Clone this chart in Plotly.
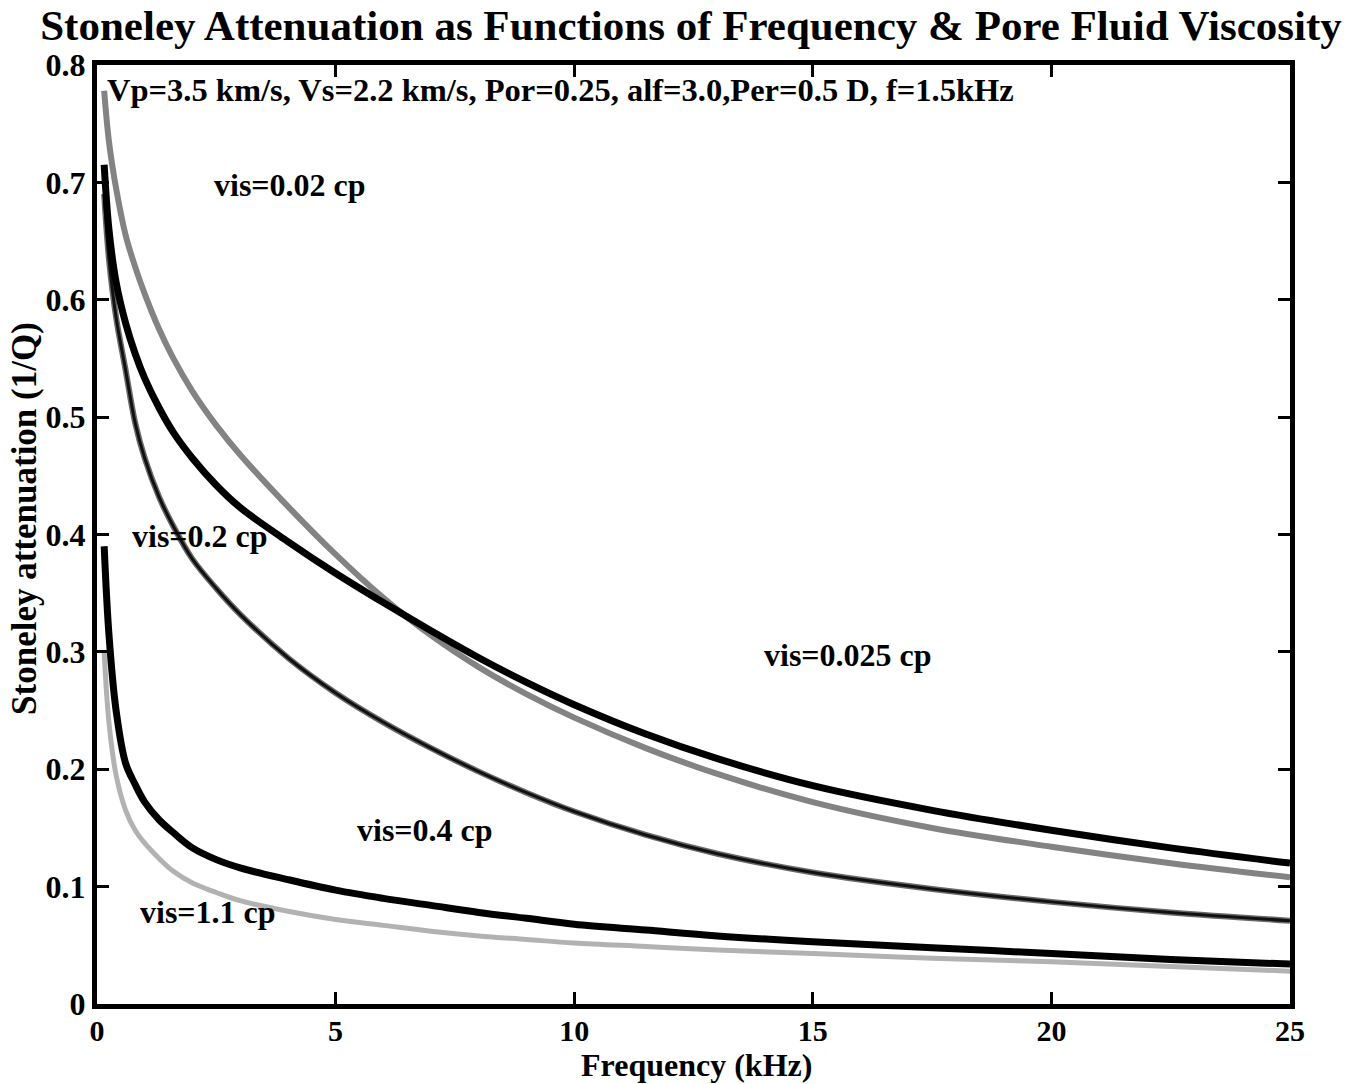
import plotly.graph_objects as go

# ---- data ----
freq_khz = [0.15, 0.25, 0.4, 0.6, 0.8, 1.0, 1.3, 1.6, 2.0, 2.5, 3.0, 4.0, 5.0, 6.0,
            7.0, 8.0, 9.0, 10.0, 11.5, 13.0, 15.0, 17.5, 20.0, 22.5, 25.0]

atten_vis002_gray = [0.778, 0.735, 0.695, 0.655, 0.628, 0.605, 0.575, 0.550, 0.522, 0.493,
                     0.468, 0.424, 0.383, 0.346, 0.314, 0.287, 0.264, 0.244, 0.218, 0.196,
                     0.172, 0.150, 0.134, 0.120, 0.108]

atten_vis0025_black = [0.715, 0.66, 0.615, 0.58, 0.554, 0.533, 0.508, 0.487, 0.465, 0.442,
                       0.423, 0.394, 0.367, 0.342, 0.318, 0.295, 0.274, 0.255, 0.230, 0.209,
                       0.186, 0.165, 0.148, 0.133, 0.120]

atten_vis02_04 = [0.69, 0.635, 0.585, 0.54, 0.495, 0.465, 0.432, 0.407, 0.379, 0.354,
                  0.332, 0.295, 0.265, 0.240, 0.218, 0.198, 0.180, 0.164, 0.144, 0.128,
                  0.112, 0.098, 0.087, 0.078, 0.071]

atten_vis11_black = [0.39, 0.315, 0.25, 0.205, 0.187, 0.172, 0.157, 0.146, 0.133, 0.123,
                     0.116, 0.106, 0.097, 0.09, 0.084, 0.078, 0.073, 0.068, 0.063, 0.058,
                     0.053, 0.048, 0.043, 0.038, 0.034]

atten_vis11_gray = [0.30, 0.24, 0.195, 0.165, 0.148, 0.137, 0.124, 0.113, 0.103, 0.095,
                    0.088, 0.079, 0.072, 0.067, 0.062, 0.058, 0.055, 0.052, 0.049, 0.046,
                    0.043, 0.039, 0.036, 0.032, 0.028]

x_ticks = [0, 5, 10, 15, 20, 25]
y_ticks = [0, 0.1, 0.2, 0.3, 0.4, 0.5, 0.6, 0.7, 0.8]
y_tick_text = ["0", "0.1", "0.2", "0.3", "0.4", "0.5", "0.6", "0.7", "0.8"]

labels = [
    ("vis=0.02 cp", 4.05, 0.698),
    ("vis=0.2 cp", 2.16, 0.399),
    ("vis=0.025 cp", 15.74, 0.297),
    ("vis=0.4 cp", 6.87, 0.148),
    ("vis=1.1 cp", 2.33, 0.078),
]
param_text = "Vp=3.5 km/s, Vs=2.2 km/s, Por=0.25, alf=3.0,Per=0.5 D, f=1.5kHz"
title_text = "Stoneley Attenuation as Functions of Frequency & Pore Fluid Viscosity"
x_title = "Frequency (kHz)"
y_title = "Stoneley attenuation (1/Q)"

FONT = "Liberation Serif, Times New Roman, serif"

fig = go.Figure()

series = [
    (atten_vis11_gray, "#b2b2b2", 5),
    (atten_vis11_black, "#000000", 7),
    (atten_vis02_04, "#6a6a6a", 6),
    (atten_vis02_04, "#111111", 3),
    (atten_vis002_gray, "#838383", 6),
    (atten_vis0025_black, "#000000", 7),
]
for ys, col, w in series:
    fig.add_trace(go.Scatter(x=freq_khz, y=ys, mode="lines",
                             line=dict(color=col, width=w, shape="spline", smoothing=1.0),
                             showlegend=False, hoverinfo="skip"))

for txt, xv, yv in labels:
    fig.add_annotation(x=xv, y=yv, text=txt, showarrow=False,
                       font=dict(family=FONT, size=32, color="black", weight="bold"),
                       xanchor="center", yanchor="middle")

fig.add_annotation(x=0.17, y=0.779, text=param_text, showarrow=False,
                   font=dict(family=FONT, size=32.5, color="black", weight="bold"),
                   xanchor="left", yanchor="middle")

# axis titles placed as paper annotations
fig.add_annotation(xref="paper", yref="paper", x=0.5025, y=-0.065, text=x_title,
                   showarrow=False, xanchor="center", yanchor="middle",
                   font=dict(family=FONT, size=32, color="black", weight="bold"))
fig.add_annotation(xref="paper", yref="paper", x=-0.0604, y=0.5176, text=y_title,
                   showarrow=False, xanchor="center", yanchor="middle", textangle=-90,
                   font=dict(family=FONT, size=35, color="black", weight="bold"))

fig.update_layout(
    width=1364, height=1084,
    margin=dict(l=97, r=74, t=65, b=80),
    paper_bgcolor="white", plot_bgcolor="white",
    title=dict(text=title_text, x=0.5066, xanchor="center", y=0.977, yanchor="middle",
               font=dict(family=FONT, size=43, color="black", weight="bold")),
    font=dict(family=FONT, color="black"),
)

fig.update_xaxes(range=[0, 25], tickvals=x_ticks, ticktext=[str(t) for t in x_ticks],
                 ticks="inside", ticklen=12, tickwidth=3, tickcolor="black",
                 showline=True, linewidth=5, linecolor="black", mirror="allticks",
                 showgrid=False, zeroline=False, ticklabelstandoff=-4,
                 tickfont=dict(family=FONT, size=30, weight="bold"))

fig.update_yaxes(range=[0, 0.8], tickvals=y_ticks, ticktext=y_tick_text,
                 ticks="inside", ticklen=12, tickwidth=3, tickcolor="black",
                 showline=True, linewidth=5, linecolor="black", mirror="allticks",
                 showgrid=False, zeroline=False,
                 tickfont=dict(family=FONT, size=32, weight="bold"))

fig.write_html("out.html")
